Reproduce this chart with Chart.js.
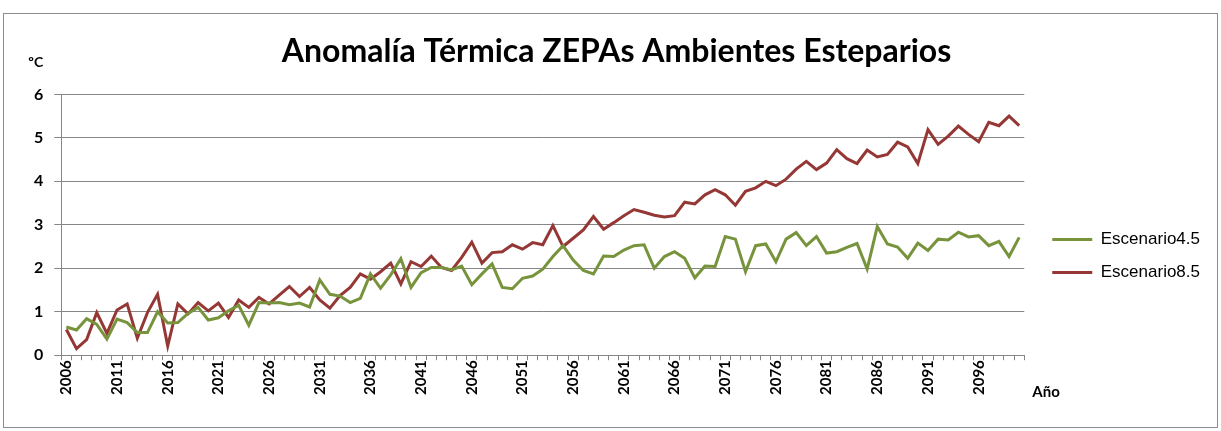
<!DOCTYPE html>
<html>
<head>
<meta charset="utf-8">
<script src="https://cdn.jsdelivr.net/npm/chart.js@4.4.1/dist/chart.umd.min.js"></script>
<style>
  html, body { margin: 0; padding: 0; background: #fff; }
  #box {
    position: absolute; left: 3px; top: 13px;
    width: 1215px; height: 415px;
    border: 1px solid #8c8c8c; box-sizing: border-box;
  }
  #chart { display: block; }
</style>
</head>
<body>
<div id="box"><canvas id="chart" width="1213" height="413"></canvas></div>
<script>
// Anomalía térmica anual (ºC), 2006-2100
const years = [];
for (let y = 2006; y <= 2100; y++) years.push(String(y));

const escenario45 = [
  0.65, 0.58, 0.84, 0.71, 0.37, 0.83, 0.75, 0.52, 0.52, 1.00,
  0.74, 0.75, 0.96, 1.10, 0.81, 0.86, 1.02, 1.15, 0.69, 1.21,
  1.20, 1.21, 1.16, 1.20, 1.11, 1.73, 1.40, 1.36, 1.21, 1.31,
  1.87, 1.54, 1.85, 2.22, 1.56, 1.90, 2.02, 2.02, 1.96, 2.05,
  1.62, 1.87, 2.10, 1.56, 1.53, 1.77, 1.82, 1.98, 2.27, 2.52,
  2.19, 1.95, 1.87, 2.28, 2.27, 2.42, 2.52, 2.54, 2.00, 2.27,
  2.38, 2.23, 1.78, 2.05, 2.04, 2.73, 2.67, 1.92, 2.52, 2.56,
  2.15, 2.67, 2.82, 2.52, 2.73, 2.35, 2.38, 2.48, 2.57, 1.98,
  2.96, 2.56, 2.49, 2.23, 2.58, 2.41, 2.67, 2.65, 2.83, 2.72,
  2.75, 2.52, 2.62, 2.27, 2.71
];

const escenario85 = [
  0.59, 0.15, 0.36, 0.98, 0.50, 1.04, 1.18, 0.39, 0.98, 1.40,
  0.21, 1.18, 0.95, 1.21, 1.02, 1.20, 0.87, 1.27, 1.10, 1.33,
  1.18, 1.38, 1.58, 1.35, 1.56, 1.27, 1.08, 1.37, 1.56, 1.87,
  1.75, 1.92, 2.12, 1.64, 2.15, 2.04, 2.28, 2.02, 1.95, 2.25,
  2.60, 2.12, 2.36, 2.38, 2.54, 2.44, 2.59, 2.54, 2.98, 2.50,
  2.69, 2.88, 3.19, 2.90, 3.05, 3.21, 3.35, 3.29, 3.22, 3.18,
  3.21, 3.52, 3.48, 3.69, 3.81, 3.69, 3.45, 3.77, 3.85, 4.00,
  3.90, 4.05, 4.28, 4.46, 4.27, 4.42, 4.73, 4.52, 4.41, 4.72,
  4.56, 4.62, 4.90, 4.79, 4.41, 5.19, 4.85, 5.04, 5.27, 5.08,
  4.91, 5.36, 5.28, 5.50, 5.28
];

const yTicks = [0, 1, 2, 3, 4, 5, 6];

const axisGray = '#868686';

// axis titles placed like the original (ºC above the y axis, Año at the end of the x axis)
const axisTitles = {
  id: 'axisTitles',
  afterDraw(chart) {
    const { ctx, chartArea } = chart;
    ctx.save();
    ctx.fillStyle = '#000';
    ctx.font = 'bold 14px Lato';
    ctx.textBaseline = 'middle';
    ctx.textAlign = 'left';
    ctx.fillText('ºC', chartArea.left - 33, chartArea.top - 32);
    ctx.font = 'bold 15px Lato';
    ctx.fillText('Año', chartArea.right + 8, chartArea.bottom + 37);
    ctx.restore();
  }
};

new Chart(document.getElementById('chart'), {
  type: 'line',
  data: {
    labels: years,
    datasets: [
      {
        label: 'Escenario4.5',
        data: escenario45,
        borderColor: '#77933c',
        backgroundColor: '#77933c',
        borderWidth: 3,
        pointRadius: 0,
        tension: 0
      },
      {
        label: 'Escenario8.5',
        data: escenario85,
        borderColor: '#953735',
        backgroundColor: '#953735',
        borderWidth: 3,
        pointRadius: 0,
        tension: 0
      }
    ]
  },
  options: {
    responsive: false,
    animation: false,
    layout: { padding: { left: 19, right: 7, top: 0, bottom: 32 } },
    plugins: {
      title: {
        display: true,
        text: 'Anomalía Térmica ZEPAs Ambientes Esteparios',
        color: '#000',
        font: { family: 'Lato', size: 32, weight: 'bold' },
        padding: { top: 18, bottom: 24 }
      },
      legend: {
        position: 'right',
        title: { display: true, text: ' ', padding: { top: 43, bottom: 43 }, font: { size: 14 } },
        labels: {
          usePointStyle: true,
          pointStyle: 'line',
          boxWidth: 40,
          pointStyleWidth: 40,
          padding: 16,
          color: '#000',
          font: { family: 'Liberation Sans', size: 17 }
        }
      },
      tooltip: { enabled: false }
    },
    scales: {
      x: {
        offset: true,
        border: { color: axisGray, width: 1 },
        grid: { display: true, offset: true, drawOnChartArea: false, drawTicks: true, tickLength: 5, color: axisGray },
        ticks: {
          autoSkip: false,
          maxRotation: 90,
          minRotation: 90,
          color: '#000',
          padding: 0,
          font: { family: 'Lato', size: 15, weight: 'bold' },
          callback: function (val, i) { return i % 5 === 0 ? this.getLabelForValue(val) : ''; }
        }
      },
      y: {
        min: 0,
        max: 6,
        afterBuildTicks: axis => { axis.ticks = yTicks.map(v => ({ value: v })); },
        border: { color: axisGray, width: 1 },
        grid: { color: axisGray, tickLength: 7 },
        ticks: {
          color: '#000',
          padding: 11,
          font: { family: 'Lato', size: 16, weight: 'bold' }
        }
      },
      // empty spacer between the plot and the legend
      gap: {
        position: 'right',
        display: true,
        grid: { display: false },
        border: { display: false },
        ticks: { display: false },
        afterFit: s => { s.width = 12; }
      }
    }
  },
  plugins: [axisTitles]
});
</script>
</body>
</html>
